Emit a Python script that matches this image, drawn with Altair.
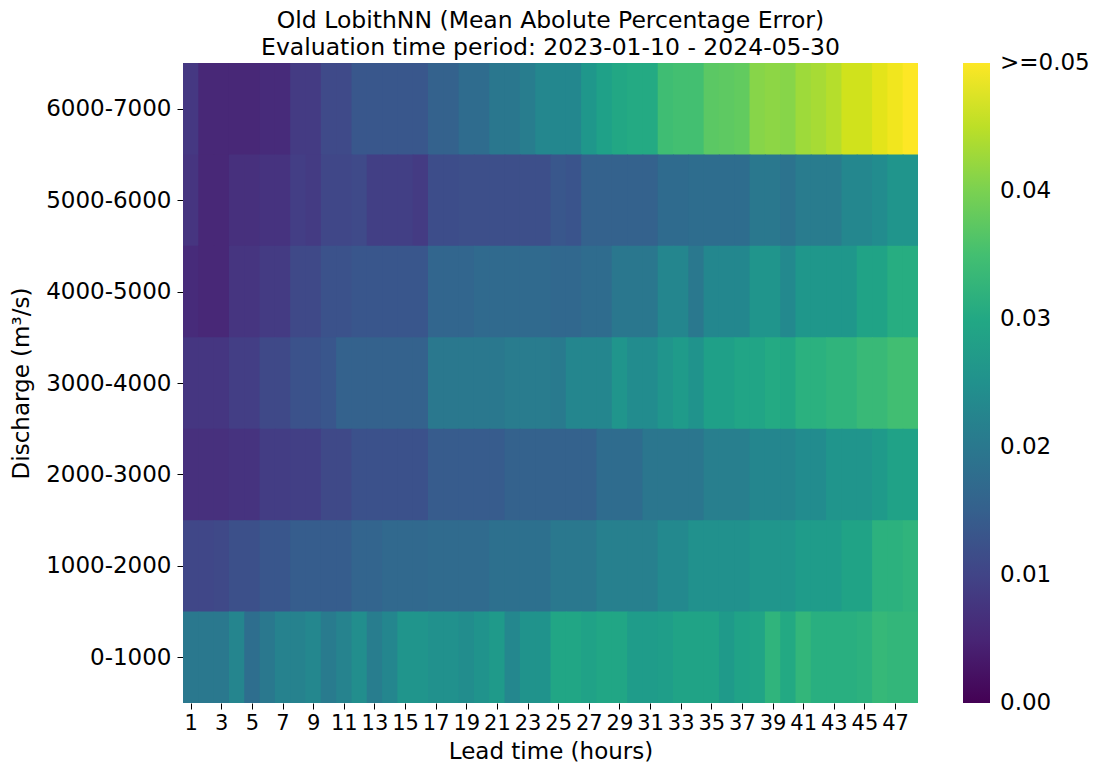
import json
import altair as alt
import pandas as pd

lead_times = list(range(1, 49))
odd_ticks = [1, 3, 5, 7, 9, 11, 13, 15, 17, 19, 21, 23, 25, 27, 29, 31, 33, 35, 37, 39, 41, 43, 45, 47]
bins = ["6000-7000", "5000-6000", "4000-5000", "3000-4000", "2000-3000", "1000-2000", "0-1000"]

mape_6000_7000 = [0.008, 0.0055, 0.0055, 0.0055, 0.0055, 0.006, 0.006, 0.0085, 0.0085, 0.011,
                  0.011, 0.0135, 0.0135, 0.0135, 0.0135, 0.0135, 0.0155, 0.0155, 0.0175, 0.0175,
                  0.0198, 0.0198, 0.021, 0.023, 0.0232, 0.0232, 0.0265, 0.0285, 0.0298, 0.0305,
                  0.0305, 0.0345, 0.035, 0.035, 0.0373, 0.0376, 0.038, 0.041, 0.0415, 0.041,
                  0.0428, 0.0435, 0.0445, 0.0465, 0.0465, 0.048, 0.049, 0.052]
mape_5000_6000 = [0.0075, 0.0055, 0.0055, 0.0068, 0.0068, 0.0072, 0.0072, 0.009, 0.0085, 0.0105,
                  0.0105, 0.011, 0.0092, 0.0092, 0.0092, 0.0085, 0.0115, 0.0115, 0.0118, 0.0118,
                  0.0118, 0.0118, 0.0118, 0.0118, 0.0135, 0.013, 0.0155, 0.0155, 0.0155, 0.0155,
                  0.0155, 0.0173, 0.0173, 0.0178, 0.0178, 0.0178, 0.0178, 0.02, 0.02, 0.019,
                  0.0207, 0.0207, 0.0207, 0.023, 0.023, 0.024, 0.026, 0.026]
mape_4000_5000 = [0.006, 0.0055, 0.0055, 0.0075, 0.0075, 0.0085, 0.0085, 0.0108, 0.0108, 0.0125,
                  0.0125, 0.0133, 0.0133, 0.0133, 0.0133, 0.0133, 0.0163, 0.0163, 0.0163, 0.017,
                  0.017, 0.017, 0.017, 0.017, 0.0166, 0.0166, 0.0175, 0.0175, 0.0198, 0.0198,
                  0.0198, 0.0228, 0.0228, 0.02, 0.0232, 0.0232, 0.0232, 0.026, 0.026, 0.0235,
                  0.0265, 0.0265, 0.0265, 0.0265, 0.029, 0.029, 0.031, 0.031]
mape_3000_4000 = [0.0078, 0.0078, 0.0078, 0.009, 0.009, 0.0108, 0.0108, 0.0125, 0.0125, 0.0133,
                  0.0155, 0.0155, 0.0155, 0.0155, 0.0155, 0.0155, 0.02, 0.02, 0.02, 0.02,
                  0.02, 0.0208, 0.0208, 0.0208, 0.0203, 0.0228, 0.0228, 0.0228, 0.026, 0.024,
                  0.024, 0.026, 0.0272, 0.0255, 0.0283, 0.0283, 0.0293, 0.0293, 0.0305, 0.0298,
                  0.0318, 0.0318, 0.0325, 0.0325, 0.0338, 0.0338, 0.0348, 0.0348]
mape_2000_3000 = [0.0068, 0.0068, 0.0068, 0.0073, 0.0073, 0.0088, 0.0088, 0.0092, 0.0092, 0.0108,
                  0.0108, 0.0123, 0.0123, 0.0123, 0.0123, 0.0123, 0.0143, 0.0143, 0.0143, 0.0143,
                  0.0143, 0.0155, 0.0155, 0.0155, 0.0155, 0.0155, 0.0155, 0.0175, 0.0175, 0.0175,
                  0.0195, 0.0195, 0.0195, 0.0195, 0.0213, 0.0213, 0.0213, 0.0228, 0.0228, 0.0228,
                  0.024, 0.024, 0.026, 0.026, 0.026, 0.027, 0.0288, 0.0288]
mape_1000_2000 = [0.0105, 0.0105, 0.0108, 0.012, 0.012, 0.0133, 0.0133, 0.0145, 0.0145, 0.0145,
                  0.0145, 0.016, 0.016, 0.0168, 0.0168, 0.0168, 0.0172, 0.0172, 0.0172, 0.0172,
                  0.0183, 0.0183, 0.0183, 0.0183, 0.02, 0.02, 0.02, 0.0215, 0.0215, 0.0215,
                  0.0215, 0.0235, 0.0235, 0.025, 0.025, 0.025, 0.025, 0.0262, 0.0262, 0.0262,
                  0.0275, 0.0275, 0.0275, 0.029, 0.029, 0.032, 0.032, 0.0325]
mape_0_1000 = [0.020, 0.020, 0.020, 0.0225, 0.018, 0.020, 0.022, 0.022, 0.023, 0.0205,
               0.0222, 0.0245, 0.021, 0.0228, 0.026, 0.026, 0.025, 0.025, 0.0242, 0.0255,
               0.027, 0.023, 0.0255, 0.0255, 0.0295, 0.0295, 0.0288, 0.0295, 0.0295, 0.0275,
               0.0275, 0.028, 0.029, 0.029, 0.029, 0.027, 0.0288, 0.0292, 0.0325, 0.0302,
               0.033, 0.0315, 0.0315, 0.0315, 0.032, 0.0335, 0.033, 0.033]

series = [mape_6000_7000, mape_5000_6000, mape_4000_5000, mape_3000_4000,
          mape_2000_3000, mape_1000_2000, mape_0_1000]

records = []
for r, (b, vals) in enumerate(zip(bins, series)):
    for lt, v in zip(lead_times, vals):
        records.append({"discharge": b, "row": r, "lead": lt, "mape": v})
df = pd.DataFrame(records)

FONT = "DejaVu Sans"
FS = 23
row_centers = [r + 0.5 for r in range(len(bins))]
bin_lookup = "[" + ",".join("'" + b + "'" for b in bins) + "]"

chart = alt.Chart(df).transform_calculate(
    x_start="datum.lead - 0.5",
    x_end="datum.lead + 0.56",
    y_start="datum.row",
    y_end="datum.row + 1.03",
).mark_rect(clip=True).encode(
    x=alt.X("x_start:Q",
            scale=alt.Scale(domain=[0.5, 48.5], nice=False, zero=False),
            axis=alt.Axis(values=odd_ticks, format="d", labelAngle=0, title="Lead time (hours)",
                          titlePadding=7, labelPadding=3, labelFontSize=21,
                          labelOverlap=False, labelFlush=False)),
    x2="x_end:Q",
    y=alt.Y("y_start:Q",
            scale=alt.Scale(domain=[0, len(bins)], nice=False, zero=False, reverse=True),
            axis=alt.Axis(values=row_centers, title="Discharge (m³/s)", titlePadding=12,
                          labelPadding=6, labelFlush=False, labelOverlap=False,
                          labelExpr=bin_lookup + "[floor(datum.value)]")),
    y2="y_end:Q",
    color=alt.Color("mape:Q",
                    scale=alt.Scale(scheme="viridis", domain=[0, 0.05], clamp=True),
                    legend=alt.Legend(title=None, orient="none", legendX=780, legendY=0,
                                      direction="vertical",
                                      gradientLength=640, gradientThickness=27,
                                      values=[0, 0.01, 0.02, 0.03, 0.04, 0.05],
                                      labelExpr="datum.value >= 0.05 ? '>=0.05' : format(datum.value, '.2f')",
                                      labelFontSize=FS, labelFont=FONT, labelColor="black",
                                      labelBaseline="middle",
                                      labelOffset=10, gradientStrokeWidth=0)),
).properties(
    width=735, height=640,
    title=alt.TitleParams(
        text=["Old LobithNN (Mean Abolute Percentage Error)",
              "Evaluation time period: 2023-01-10 - 2024-05-30"],
        fontSize=23.5, font=FONT, fontWeight="normal", color="black",
        anchor="middle", lineHeight=27, offset=4),
    padding={"left": 183, "top": 63, "right": 196, "bottom": 66},
    autosize="none",
).configure_view(stroke=None).configure_axis(
    domain=False, grid=False, tickColor="black", tickSize=6, tickWidth=1,
    labelFont=FONT, labelFontSize=FS, labelColor="black",
    titleFont=FONT, titleFontSize=FS, titleColor="black", titleFontWeight="normal",
)

chart.save("out.html", embed_options={"renderer": "svg", "actions": False})

# Center the colorbar end labels on the gradient ends (Vega legend label encoding).
spec = chart.to_dict()
patched = json.loads(json.dumps(spec))
patched["encoding"]["color"]["legend"]["encode"] = {
    "labels": {"update": {"baseline": {"value": "middle"}}}
}
with open("out.html", "r", encoding="utf-8") as f:
    page = f.read()
old_json = json.dumps(spec)
if old_json in page:
    page = page.replace(old_json, json.dumps(patched))
    with open("out.html", "w", encoding="utf-8") as f:
        f.write(page)
